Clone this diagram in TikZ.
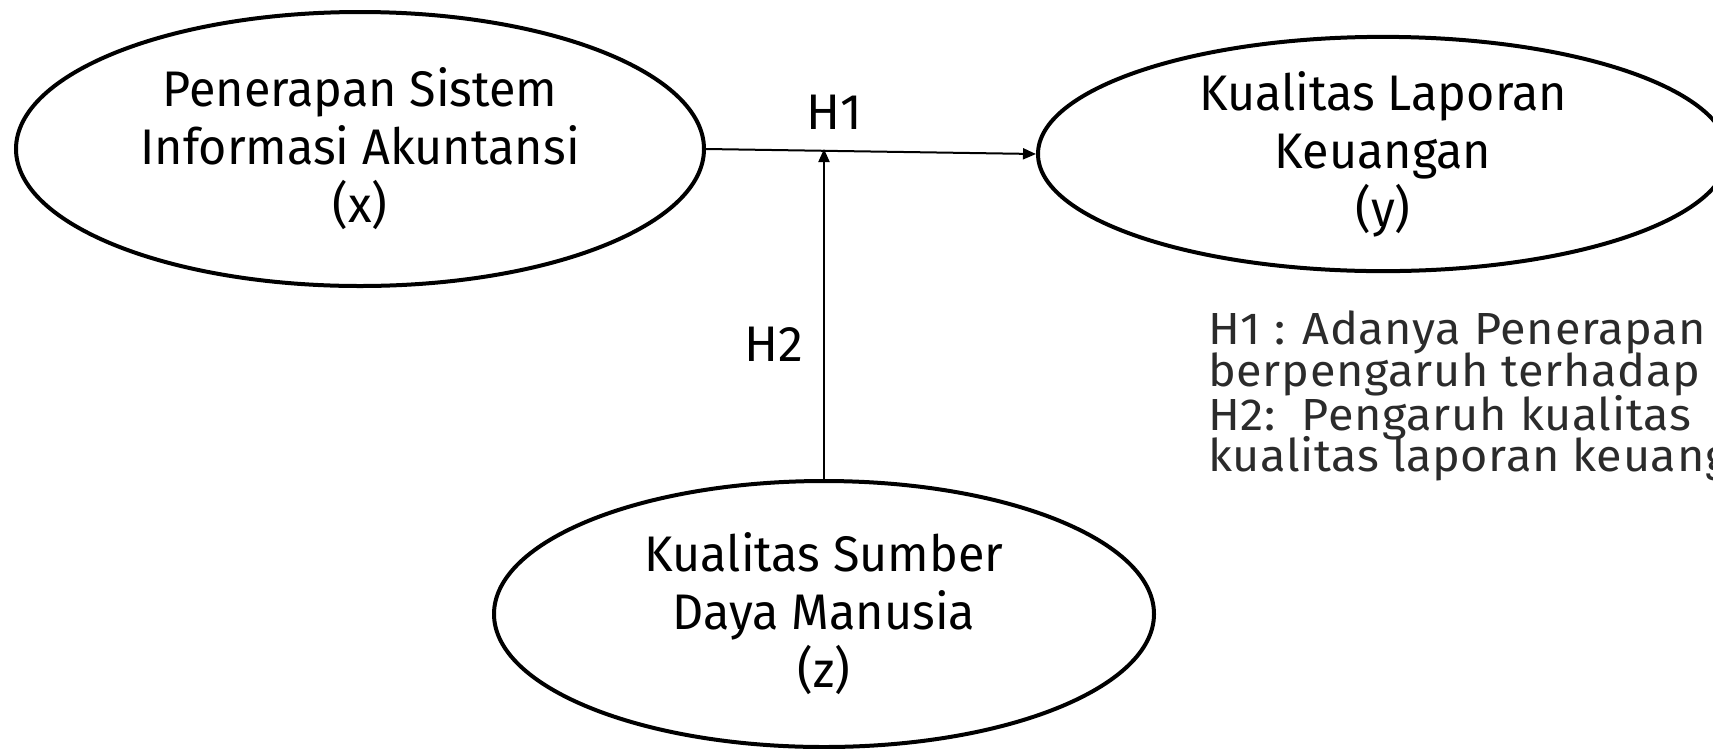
\documentclass[tikz,border=0pt]{standalone}
\usepackage{fontspec}
\setmainfont{Fira Sans}
\newfontfamily\condfont{Fira Sans}[FakeStretch=0.97]
\newfontfamily\notefont{Fira Sans}[FakeStretch=1.04,LetterSpace=1.5]
\usetikzlibrary{arrows.meta,shapes.geometric}
\definecolor{notegray}{HTML}{2B2B2B}
\begin{document}
\begin{tikzpicture}[x=1pt,y=-1pt,
  varbox/.style={draw=black, line width=4pt, ellipse, inner sep=0pt, align=center,
    font=\condfont\fontsize{50}{58}\selectfont},
  link/.style={draw=black, line width=2pt, -{Triangle[length=13pt,width=11pt]}},
  hlabel/.style={font=\fontsize{50}{56}\selectfont, inner sep=0pt},
  note/.style={font=\notefont\fontsize{45}{42.5}\selectfont, text=notegray, anchor=base west, inner sep=0pt}]
\useasboundingbox (0,0) rectangle (1713,748);
\node[varbox, minimum width=688pt, minimum height=274pt] (x) at (360,149)
  {Penerapan Sistem\\Informasi Akuntansi\\(x)};
\node[varbox, minimum width=690pt, minimum height=230pt] (y) at (1383,154)
  {Kualitas Laporan\\Keuangan\\(y)};
\node[varbox, minimum width=660pt, minimum height=266pt] (z) at (824,614)
  {Kualitas Sumber\\Daya Manusia\\(z)};
\coordinate (m) at (z.north |- x.east);
\draw[link] (x.east) -- (y.west);
\draw[link] (z.north) -- (m);
\node[hlabel] (h1) at (834,112) {H1};
\node[hlabel] (h2) at (774,344) {H2};
\node[note] (t1) at (1208,344) {H1 : Adanya Penerapan};
\node[note] (t2) at (1208,386) {berpengaruh terhadap};
\node[note] (t3) at (1208,430) {H2:\ \ Pengaruh kualitas};
\node[note] (t4) at (1208,471) {kualitas laporan keuangan};
\end{tikzpicture}
\end{document}
